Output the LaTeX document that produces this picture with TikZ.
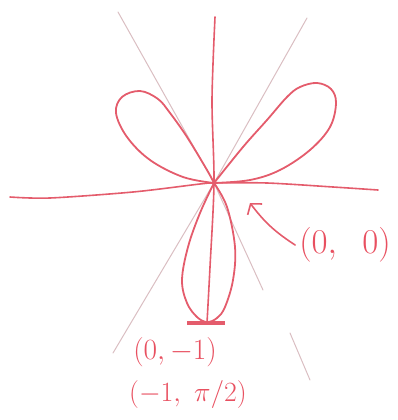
\documentclass[tikz,border=0pt]{standalone}
\usepackage{graphicx}
\usetikzlibrary{arrows.meta}
\definecolor{ink}{RGB}{228,92,108}
\definecolor{inktext}{RGB}{232,80,96}
\definecolor{guide}{RGB}{218,190,194}
\tikzset{
  curve/.style={ink, line width=1.8pt, line cap=round, line join=round},
  axisline/.style={ink, line width=1.6pt, line cap=round},
  guideline/.style={guide, line width=1pt, line cap=round},
  lbl/.style={inktext, inner sep=0pt, font=\fontsize{24.88}{28}\selectfont},
}
\begin{document}
\begin{tikzpicture}[x=1pt,y=-1pt]
\useasboundingbox (0,0) rectangle (398,420);
\coordinate (O) at (214,183);
% guide lines
\draw[guideline] (118,12) -- (O) -- (263,290);
\draw[guideline] (290,333) -- (310,380);
\draw[guideline] (307,18) -- (O) -- (113,353);
% axes
\draw[axisline] plot[smooth] coordinates {(10,197) (50,198) (133,192) (200,184) (O) (267,183) (333,187) (378,190)};
\draw[axisline] plot[smooth] coordinates {(215,17) (212,100) (O) (210,267) (207,323)};
% petals
\draw[curve] plot[smooth, tension=0.6] coordinates {(O) (183,177) (150,160) (127,137) (116,113) (122,97) (140,91) (158,99) (170,113) (187,137) (207,170) (O)};
\draw[curve] plot[smooth, tension=0.6] coordinates {(O) (243,147) (267,120) (287,97) (300,87) (317,83) (331,89) (336,103) (330,127) (310,150) (280,170) (250,180) (O)};
\draw[curve] plot[smooth, tension=0.6] coordinates {(O) (200,213) (188,247) (182,280) (187,303) (197,317) (207,322) (217,318) (225,307) (233,280) (235,247) (227,207) (O)};
% point (0,-1)
\coordinate (B) at (207,323);
\draw[ink, line width=3.5pt] ([xshift=-20pt]B) -- ([xshift=18pt]B);
% labels
\node[lbl] (p1) at (175,352) {\scalebox{1.18}{$(0,-1)$}};
\node[lbl] (p2) at (188,395) {\scalebox{1.12}{$(-1,\ \pi/2)$}};
\node[lbl] (p0) at (345,245) {\scalebox{1.4}{$(0,\;\;0)$}};
\coordinate (T) at (250,203);
\draw[ink, line width=1.6pt, line cap=round, -{Straight Barb[length=7pt,width=18pt]}] ([xshift=-4pt]p0.west) to[bend left=10] (T);
\end{tikzpicture}
\end{document}
